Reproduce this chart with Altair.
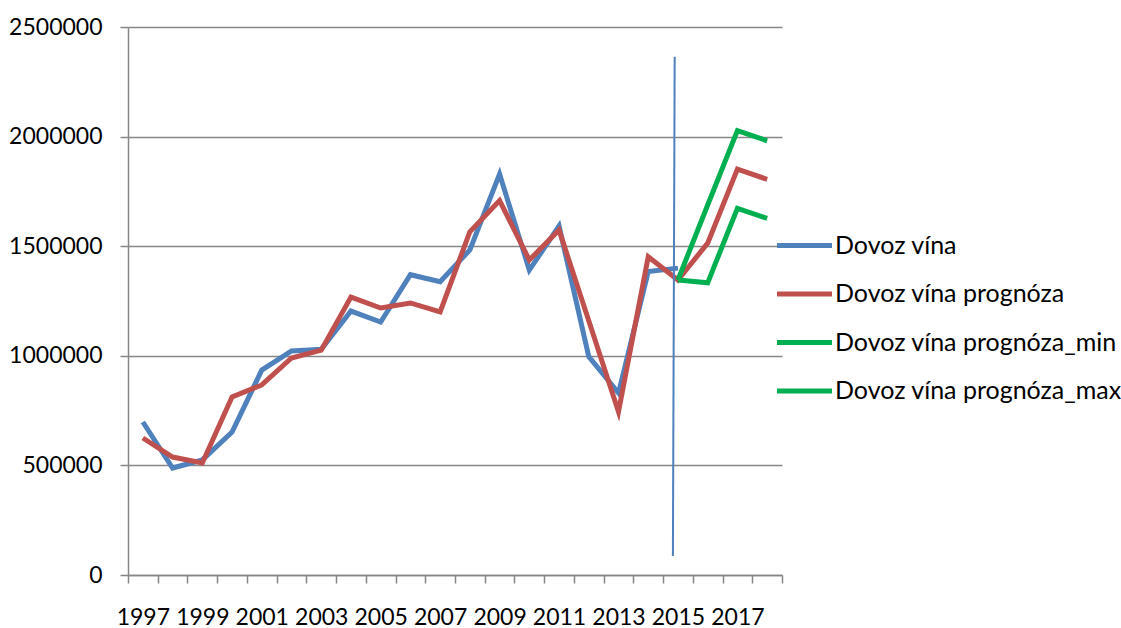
import altair as alt
import pandas as pd

# Wine imports: actual values, forecast, and forecast band
years = list(range(1997, 2019))
dovoz = [698000, 488000, 525000, 652000, 935000, 1022000, 1030000, 1204000,
         1154000, 1370000, 1338000, 1483000, 1829000, 1391000, 1592000,
         996000, 830000, 1384000, 1400000]
prognoza = [625000, 538000, 511000, 812000, 867000, 990000, 1026000, 1268000,
            1218000, 1241000, 1200000, 1566000, 1708000, 1437000, 1574000,
            1160000, 745000, 1452000, 1346000, 1514000, 1852000, 1805000]
band_years = [2015, 2016, 2017, 2018]
prognoza_min = [1346000, 1333000, 1673000, 1627000]
prognoza_max = [1346000, 1688000, 2027000, 1981000]

# Marker line separating history from forecast
marker_x = [2014.89, 2014.83]
marker_y = [2364000, 87000]

names = ["Dovoz vína", "Dovoz vína prognóza",
         "Dovoz vína prognóza_min", "Dovoz vína prognóza_max"]
colors = ["#4F81BD", "#C0504D", "#00B050", "#00B050"]
widths = [5, 5, 3, 3]

rows = []
for y, v in zip(years, dovoz):
    rows.append({"year": y, "value": v, "series": names[0]})
for y, v in zip(years, prognoza):
    rows.append({"year": y, "value": v, "series": names[1]})
for y, v in zip(band_years, prognoza_min):
    rows.append({"year": y, "value": v, "series": names[2]})
for y, v in zip(band_years, prognoza_max):
    rows.append({"year": y, "value": v, "series": names[3]})
df = pd.DataFrame(rows)

marker = pd.DataFrame({"x1": [marker_x[0]], "x2": [marker_x[1]],
                       "y1": [marker_y[0]], "y2": [marker_y[1]]})

FONT = "Lato"
FS = 23
GRAY = "#868686"

# category boundaries carry the ticks; every other year is labelled at band centre
x_axis = alt.Axis(
    values=[1996.5 + i for i in range(23)], tickCount=40,
    labelExpr="datum.value < 2018 && (datum.value + 0.5) % 2 == 1 ? format(datum.value + 0.5, 'd') : ''",
    labelOffset=14.86, labelFlush=False, labelOverlap=False, labelAngle=0,
    tickSize=8, tickColor=GRAY, tickWidth=1.5, domainColor=GRAY, domainWidth=1.5,
    grid=False, title=None, labelFont=FONT, labelFontSize=FS, labelColor="black",
    labelPadding=23,
)
y_axis = alt.Axis(
    values=[0, 500000, 1000000, 1500000, 2000000, 2500000], format="d",
    grid=True, gridColor=GRAY, gridWidth=1.5,
    tickSize=8, tickColor=GRAY, tickWidth=1.5, domainColor=GRAY, domainWidth=1.5,
    title=None, labelFont=FONT, labelFontSize=FS, labelColor="black",
    labelPadding=18,
)

x_scale = alt.Scale(domain=[1996.5, 2018.5], nice=False, zero=False)
y_scale = alt.Scale(domain=[0, 2500000], nice=False)

legend = alt.Legend(
    title=None, orient="none", legendX=663, legendY=205,
    symbolType="M-2.5,0H2.5", symbolSize=484, labelOffset=17,
    labelFont=FONT, labelFontSize=25, labelColor="black", labelLimit=0,
    rowPadding=21.5, padding=0,
)

lines = alt.Chart(df).mark_line(strokeJoin="miter").encode(
    x=alt.X("year:Q", scale=x_scale, axis=x_axis),
    y=alt.Y("value:Q", scale=y_scale, axis=y_axis),
    color=alt.Color("series:N", scale=alt.Scale(domain=names, range=colors),
                    legend=legend),
    strokeWidth=alt.StrokeWidth("series:N",
                                scale=alt.Scale(domain=names, range=widths),
                                legend=legend),
)

rule = alt.Chart(marker).mark_rule(color="#4F81BD", strokeWidth=2).encode(
    x=alt.X("x1:Q", scale=x_scale),
    x2="x2:Q",
    y=alt.Y("y1:Q", scale=y_scale),
    y2="y2:Q",
)

chart = alt.layer(lines, rule).properties(
    width=654, height=548,
    autosize=alt.AutoSizeParams(type="none"),
    padding={"left": 128, "top": 27, "right": 339, "bottom": 53},
    background="white",
).configure_view(stroke=None)

chart.save("out.html", embed_options={"renderer": "svg", "actions": False})
